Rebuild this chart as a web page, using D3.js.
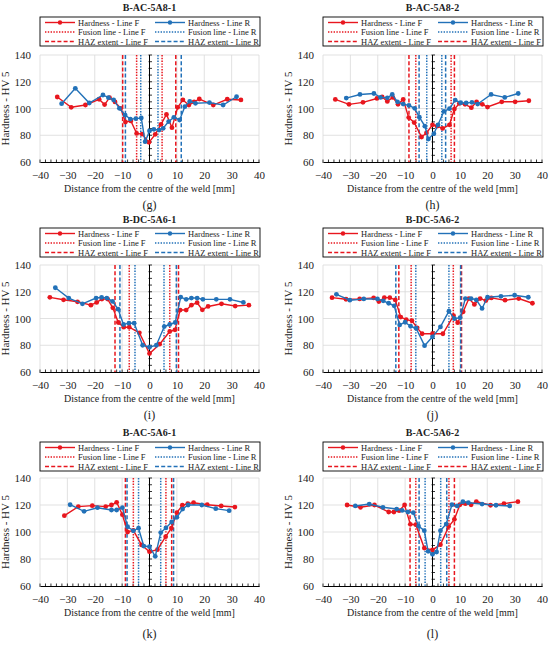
<!DOCTYPE html>
<html>
<head>
<meta charset="utf-8">
<script src="https://cdn.jsdelivr.net/npm/d3@7"></script>
<style>
  body { margin: 0; background: #fff; }
  svg { display: block; }
  text { font-family: "Liberation Serif", "DejaVu Serif", serif; fill: #222; }
</style>
</head>
<body>
<svg id="chart" width="550" height="646"></svg>
<script>
// axis ticks
const xTicks = [-40, -30, -20, -10, 0, 10, 20, 30, 40];
const yTicks = [60, 80, 100, 120, 140];

// legend texts
const legendStd = ["Hardness - Line F", "Hardness - Line R", "Fusion line - Line F",
                   "Fusion line - Line R", "HAZ extent - Line F", "HAZ extent - Line R"];
const legendAlt = ["Hardness - Line F", "Hardness - Line R", "Fusion line - Line F",
                   "Fusion line - Line R", "HAZ extent - Line F", "HAZ extent - Line F"];

// (g) B-AC-5A8-1
const gHardF = [[-33.7,108.6],[-28.6,100.9],[-23.4,102.6],[-18.4,106.9],[-16.4,102.9],[-14.6,108.1],[-12.6,104.9],[-10.5,100.1],[-8.8,89.9],[-6.8,90.7],[-4.7,81.4],[-2.7,80.9],[-0.2,74.7],[2.1,80.7],[4.2,88.2],[6.2,95.6],[8.2,85.7],[10.3,100.9],[12.2,106.4],[14.4,102.6],[16.3,104.9],[18.2,107.1],[23.3,102.6],[28.4,106.9],[33.4,106.4]];
const gHardR = [[-32.1,103.6],[-27.1,115.1],[-22.0,104.1],[-17.0,110.1],[-15.0,108.1],[-13.1,106.4],[-11.0,100.1],[-8.9,95.1],[-7.0,92.1],[-5.0,92.4],[-3.0,92.9],[-1.6,75.2],[0,83.2],[1.6,84.4],[3.5,83.9],[5.0,85.2],[7.0,90.2],[8.9,93.4],[11.0,91.4],[12.9,101.4],[14.7,105.4],[16.8,103.9],[21.9,104.4],[26.9,102.6],[31.8,108.8]];
const gFusF = [-4.7, 4.6], gFusR = [-3.2, 3.1], gHazF = [-9.8, 9.6], gHazR = [-8.8, 11.6];

// (h) B-AC-5A8-2
const hHardF = [[-35.5,106.8],[-30.5,103.1],[-25.4,104.6],[-20.3,107.5],[-18.4,108.7],[-16.5,105.3],[-14.5,108.3],[-12.6,103.1],[-10.7,106.8],[-8.7,93.2],[-6.7,89.5],[-4.0,78.7],[-2.2,81.7],[0,87.8],[1.7,86.8],[3.7,85.1],[6.2,87.8],[8.0,99.6],[9.8,103.8],[11.9,103.1],[14.2,100.6],[16.1,105.0],[18.2,103.1],[20.1,101.1],[25.3,105.0],[30.2,105.0],[35.2,105.8]];
const hHardR = [[-31.5,107.8],[-26.5,110.5],[-21.4,111.2],[-19.0,108.3],[-16.5,108.0],[-14.7,110.5],[-12.8,105.0],[-10.7,103.3],[-8.6,102.3],[-6.5,100.1],[-4.8,93.5],[-2.8,86.8],[-1.5,77.2],[0.5,81.2],[2.0,87.8],[4.2,97.9],[6.2,99.9],[8.3,106.3],[10.3,104.3],[12.3,104.1],[14.4,104.6],[16.5,103.3],[21.4,110.5],[26.4,108.3],[31.3,111.2]];
const hFusF = [-6.1, 6.8], hFusR = [-2.1, 3.4], hHazF = [-8.6, 8.0], hHazR = [-4.9, 4.8];

// (i) B-DC-5A6-1
const iHardF = [[-36.4,115.8],[-31.4,114.0],[-26.3,112.5],[-21.4,110.0],[-19.3,112.0],[-17.4,114.5],[-15.3,114.5],[-13.4,108.0],[-11.4,97.0],[-9.4,93.5],[-7.4,93.5],[-3.7,89.3],[0,73.8],[3.7,80.8],[7.4,90.3],[9.3,91.5],[11.2,106.3],[13.4,106.3],[15.3,110.0],[17.4,111.8],[19.3,106.5],[21.4,109.0],[26.3,111.0],[31.3,109.3],[36.3,110.0]];
const iHardR = [[-34.4,123.0],[-29.5,115.3],[-24.5,111.0],[-19.5,115.3],[-17.5,115.8],[-15.6,115.3],[-13.5,112.8],[-11.5,107.0],[-9.5,95.5],[-7.5,96.5],[-5.6,96.5],[-2.5,80.0],[0,78.5],[2.5,80.0],[5.4,94.0],[7.4,95.5],[9.4,97.0],[11.4,116.0],[13.4,114.3],[15.3,115.3],[17.4,115.3],[19.5,114.3],[24.4,114.3],[29.4,114.3],[34.3,112.0]];
const iFusF = [-7.4, 7.4], iFusR = [-5.3, 5.3], iHazF = [-12.6, 10.6], iHazR = [-10.8, 9.8];

// (j) B-DC-5A6-2
const jHardF = [[-36.7,115.6],[-31.6,114.4],[-26.6,114.6],[-21.5,115.4],[-19.6,112.7],[-17.6,115.6],[-15.6,115.6],[-13.6,113.9],[-11.6,101.1],[-9.6,99.1],[-7.5,98.3],[-5.6,93.0],[-3.8,88.6],[0,88.6],[3.8,88.6],[7.7,102.1],[9.2,96.9],[11.2,105.0],[13.3,114.9],[15.3,110.5],[17.4,114.9],[19.5,113.4],[21.5,115.4],[26.5,113.7],[31.5,114.9],[36.5,111.4]];
const jHardR = [[-35.1,118.1],[-30.2,113.7],[-25.1,114.6],[-20.1,114.6],[-18.0,113.2],[-16.0,111.4],[-14.0,109.5],[-12.0,95.2],[-10.0,97.2],[-8.0,94.2],[-6.0,92.7],[-2.9,79.7],[0,86.3],[2.9,93.7],[6.0,105.5],[8.0,99.9],[10.1,100.6],[12.0,114.9],[14.1,114.9],[16.0,113.9],[18.1,107.5],[20.1,115.9],[25.0,116.6],[30.0,117.4],[35.0,115.9]];
const jFusF = [-7.8, 7.6], jFusR = [-6.1, 6.0], jHazF = [-12.3, 10.6], jHazR = [-13.4, 10.3];

// (k) B-AC-5A6-1
const kHardF = [[-31.1,112.1],[-26.0,118.8],[-20.9,119.5],[-16.0,118.8],[-13.9,120.0],[-12.0,122.0],[-9.9,112.8],[-8.0,100.0],[-5.9,101.2],[-2.9,90.4],[0,85.4],[2.9,86.9],[5.9,96.5],[8.0,102.9],[10.0,114.3],[12.0,119.8],[14.0,121.0],[16.1,121.7],[21.1,120.2],[26.2,119.3],[31.2,118.5]];
const kHardR = [[-29.0,120.2],[-23.9,115.3],[-19.0,118.0],[-13.9,116.3],[-12.0,116.3],[-9.9,118.0],[-8.0,103.9],[-5.9,100.9],[-4.0,102.8],[-2.1,89.6],[0,89.1],[2.1,82.0],[4.1,99.6],[6.0,103.0],[8.1,107.4],[10.0,110.9],[12.1,117.0],[14.1,120.0],[19.1,120.0],[24.2,117.3],[29.1,115.8]];
const kFusF = [-5.9, 6.0], kFusR = [-4.0, 4.1], kHazF = [-8.8, 8.1], kHazR = [-8.2, 8.8];

// (l) B-AC-5A6-2
const lHardF = [[-31.2,120.0],[-26.3,118.3],[-21.2,120.0],[-16.0,114.8],[-14.1,114.8],[-12.2,115.8],[-10.2,120.0],[-8.1,105.7],[-6.1,105.4],[-3.0,88.1],[0,86.7],[2.9,90.6],[5.9,104.0],[8.0,109.4],[10.0,120.2],[12.0,121.0],[14.1,120.2],[16.0,122.5],[21.2,119.8],[26.1,121.0],[31.2,122.5]];
const lHardR = [[-28.2,119.3],[-23.1,120.7],[-18.1,118.3],[-13.1,117.0],[-11.1,116.0],[-9.0,114.8],[-7.0,114.3],[-5.1,104.4],[-3.0,101.0],[-1.6,85.7],[0,83.5],[1.5,85.2],[2.9,101.0],[5.0,105.9],[7.1,120.2],[9.0,119.3],[11.1,122.5],[13.1,121.7],[18.1,120.7],[23.2,119.8],[28.2,119.3]];
const lFusF = [-6.1, 6.0], lFusR = [-2.7, 3.0], lHazF = [-8.2, 8.0], lHazR = [-4.9, 5.2];

const RED = "#e8161e";
const BLUE = "#2271b8";
const plotW = 219;
const SERIF = "Liberation Serif, DejaVu Serif, serif";

const rows = [
  { title: 11, legend: 17, top: 55, h: 107, sub: 43 },
  { title: 223, legend: 228, top: 265, h: 107, sub: 43 },
  { title: 436, legend: 442, top: 478, h: 108, sub: 48 }
];
const cols = [40, 323];

const panels = [
  { name: "B-AC-5A8-1", tag: "(g)", r: 0, c: 0, F: gHardF, R: gHardR, fusF: gFusF, fusR: gFusR, hazF: gHazF, hazR: gHazR, legend: legendStd },
  { name: "B-AC-5A8-2", tag: "(h)", r: 0, c: 1, F: hHardF, R: hHardR, fusF: hFusF, fusR: hFusR, hazF: hHazF, hazR: hHazR, legend: legendAlt },
  { name: "B-DC-5A6-1", tag: "(i)", r: 1, c: 0, F: iHardF, R: iHardR, fusF: iFusF, fusR: iFusR, hazF: iHazF, hazR: iHazR, legend: legendStd },
  { name: "B-DC-5A6-2", tag: "(j)", r: 1, c: 1, F: jHardF, R: jHardR, fusF: jFusF, fusR: jFusR, hazF: jHazF, hazR: jHazR, legend: legendStd },
  { name: "B-AC-5A6-1", tag: "(k)", r: 2, c: 0, F: kHardF, R: kHardR, fusF: kFusF, fusR: kFusR, hazF: kHazF, hazR: kHazR, legend: legendStd },
  { name: "B-AC-5A6-2", tag: "(l)", r: 2, c: 1, F: lHardF, R: lHardR, fusF: lFusF, fusR: lFusR, hazF: lHazF, hazR: lHazR, legend: legendAlt }
];

const svg = d3.select("#chart").attr("font-family", SERIF);

function drawPanel(p) {
  const row = rows[p.r];
  const left = cols[p.c];
  const top = row.top;
  const bottom = top + row.h;
  const cx = left + plotW / 2;

  const x = d3.scaleLinear().domain([-40, 40]).range([left, left + plotW]);
  const y = d3.scaleLinear().domain([60, 140]).range([bottom, top]);

  const g = svg.append("g");

  // grid
  g.append("g").selectAll("line").data(xTicks).enter().append("line")
    .attr("x1", d => x(d)).attr("x2", d => x(d))
    .attr("y1", top).attr("y2", bottom)
    .attr("stroke", "#d9d9d9").attr("stroke-width", 0.8);
  g.append("g").selectAll("line").data(yTicks.slice(1)).enter().append("line")
    .attr("x1", left).attr("x2", left + plotW)
    .attr("y1", d => y(d)).attr("y2", d => y(d))
    .attr("stroke", "#d9d9d9").attr("stroke-width", 0.8);

  // y tick labels (no axis line)
  const yAxis = g.append("g").attr("transform", `translate(${left},0)`)
    .call(d3.axisLeft(y).tickValues(yTicks).tickSize(0).tickPadding(9).tickFormat(d => d));
  yAxis.attr("font-family", SERIF).attr("font-size", 11);
  yAxis.select(".domain").remove();

  // x axis at 60
  const xAxis = g.append("g").attr("transform", `translate(0,${bottom})`)
    .call(d3.axisBottom(x).tickValues(xTicks).tickSize(0).tickPadding(9));
  xAxis.attr("font-family", SERIF).attr("font-size", 11);
  xAxis.select(".domain").attr("stroke", "#000").attr("stroke-width", 1);
  g.append("g").selectAll("line").data(d3.range(-40, 41, 2)).enter().append("line")
    .attr("x1", d => x(d)).attr("x2", d => x(d))
    .attr("y1", bottom - 2.5).attr("y2", bottom + 1)
    .attr("stroke", "#000").attr("stroke-width", 0.8);

  // vertical axis through zero
  g.append("line")
    .attr("x1", x(0)).attr("x2", x(0)).attr("y1", top).attr("y2", bottom)
    .attr("stroke", "#000").attr("stroke-width", 1);
  g.append("g").selectAll("line").data(d3.range(60, 141, 5)).enter().append("line")
    .attr("x1", x(0) - 1).attr("x2", x(0) + 2.5)
    .attr("y1", d => y(d)).attr("y2", d => y(d))
    .attr("stroke", "#000").attr("stroke-width", 0.8);

  // fusion / HAZ markers
  const vlines = [
    { v: p.hazF, c: RED, dash: "4,2.2" },
    { v: p.hazR, c: BLUE, dash: "4,2.2" },
    { v: p.fusF, c: RED, dash: "1.4,1.4" },
    { v: p.fusR, c: BLUE, dash: "1.4,1.4" }
  ];
  vlines.forEach(s => {
    g.append("g").selectAll("line").data(s.v).enter().append("line")
      .attr("x1", d => x(d)).attr("x2", d => x(d))
      .attr("y1", top).attr("y2", bottom)
      .attr("stroke", s.c).attr("stroke-width", 1.5)
      .attr("stroke-dasharray", s.dash);
  });

  // hardness profiles
  const line = d3.line().x(d => x(d[0])).y(d => y(d[1]));
  [[p.F, RED], [p.R, BLUE]].forEach(([data, col]) => {
    g.append("path").datum(data)
      .attr("d", line).attr("fill", "none")
      .attr("stroke", col).attr("stroke-width", 1.4);
    g.append("g").selectAll("circle").data(data).enter().append("circle")
      .attr("cx", d => x(d[0])).attr("cy", d => y(d[1])).attr("r", 2.4)
      .attr("fill", col);
  });

  // titles
  g.append("text").attr("x", cx).attr("y", row.title)
    .attr("text-anchor", "middle").style("font-size", "10px").style("font-weight", "bold")
    .text(p.name);
  g.append("text").attr("x", cx).attr("y", bottom + 30)
    .attr("text-anchor", "middle").style("font-size", "10px")
    .text("Distance from the centre of the weld [mm]");
  g.append("text").attr("x", cx).attr("y", bottom + row.sub + 4)
    .attr("text-anchor", "middle").style("font-size", "12px")
    .text(p.tag);
  g.append("text")
    .attr("transform", `translate(${left - 31},${(top + bottom) / 2}) rotate(-90)`)
    .attr("text-anchor", "middle").style("font-size", "11px")
    .text("Hardness - HV 5");

  // legend
  const lg = g.append("g").attr("transform", `translate(${left},${row.legend})`);
  lg.append("rect").attr("width", 220).attr("height", 29)
    .attr("fill", "#fff").attr("stroke", "#000").attr("stroke-width", 0.9);
  const lastAlt = p.legend[5].endsWith("Line F");
  const styles = [
    { c: RED, dash: null, m: true }, { c: BLUE, dash: null, m: true },
    { c: RED, dash: "1.4,1.4" }, { c: BLUE, dash: "1.4,1.4" },
    { c: RED, dash: "4,2.2" }, { c: lastAlt ? RED : BLUE, dash: "4,2.2" }
  ];
  p.legend.forEach((lab, i) => {
    const lx = (i % 2) * 110 + 5;
    const ly = 5.5 + Math.floor(i / 2) * 9.5;
    const st = styles[i];
    lg.append("line").attr("x1", lx).attr("x2", lx + 30).attr("y1", ly).attr("y2", ly)
      .attr("stroke", st.c).attr("stroke-width", 1.4)
      .attr("stroke-dasharray", st.dash);
    if (st.m) lg.append("circle").attr("cx", lx + 15).attr("cy", ly).attr("r", 2.2).attr("fill", st.c);
    lg.append("text").attr("x", lx + 33).attr("y", ly + 3)
      .style("font-size", "8.5px").text(lab);
  });
}

panels.forEach(drawPanel);
</script>
</body>
</html>
